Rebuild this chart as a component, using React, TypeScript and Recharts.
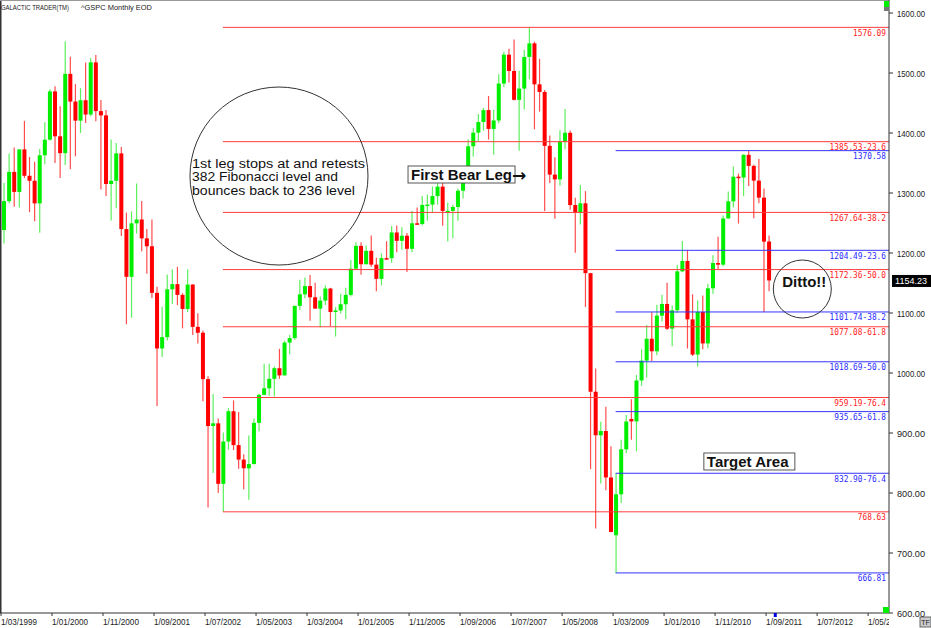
import React from "react";
import {
  ComposedChart,
  Bar,
  XAxis,
  YAxis,
  ReferenceLine,
  ReferenceDot,
} from "recharts";

// month index 0 = March 1999, one candle per month up to September 2011
const START_YEAR = 1999;
const START_MONTH = 3;

const opens = [
  1238.3, 1286.4, 1335.2, 1301.8, 1372.7, 1328.7, 1320.4, 1282.7, 1362.9, 1388.9,
  1469.3, 1394.5, 1366.4, 1498.6, 1452.4, 1420.6, 1454.6, 1430.8, 1517.7, 1436.5,
  1429.4, 1315.0, 1320.3, 1366.0, 1239.9, 1160.3, 1249.5, 1255.8, 1224.4, 1211.2,
  1133.6, 1040.9, 1059.8, 1139.5, 1148.1, 1130.2, 1106.7, 1147.4, 1076.9, 1067.1,
  989.8, 911.6, 916.1, 815.3, 885.8, 936.3, 879.8, 855.7, 841.2, 848.2,
  916.9, 963.6, 974.5, 990.3, 1008.0, 996.0, 1050.7, 1058.2, 1111.9, 1131.1,
  1144.9, 1126.2, 1107.3, 1120.7, 1140.8, 1101.7, 1104.2, 1114.6, 1130.2, 1173.8,
  1211.9, 1181.3, 1203.6, 1180.6, 1156.9, 1191.5, 1191.3, 1234.2, 1220.3, 1228.8,
  1207.0, 1249.5, 1248.3, 1280.1, 1280.7, 1294.9, 1310.6, 1270.1, 1270.2, 1276.7,
  1303.8, 1335.9, 1377.9, 1400.6, 1418.3, 1438.2, 1406.8, 1420.9, 1482.4, 1530.6,
  1503.4, 1455.3, 1474.0, 1526.8, 1549.4, 1481.1, 1468.4, 1378.6, 1330.6, 1322.7,
  1385.6, 1400.4, 1280.0, 1267.4, 1282.8, 1166.4, 968.8, 896.2, 903.3, 825.9,
  729.6, 797.9, 872.8, 923.3, 919.3, 987.5, 1020.6, 1057.1, 1036.2, 1095.6,
  1115.1, 1073.9, 1104.5, 1169.4, 1186.7, 1089.4, 1030.7, 1101.6, 1049.3, 1141.2,
  1183.3, 1180.6, 1257.6, 1286.1, 1327.2, 1325.8, 1363.6, 1345.2, 1320.6, 1292.3,
  1219.1,
];

const highs = [
  1316.6, 1366.0, 1376.0, 1372.9, 1420.3, 1360.0, 1352.0, 1373.2, 1418.0, 1473.1,
  1478.0, 1444.6, 1552.9, 1527.2, 1481.5, 1474.6, 1517.3, 1525.2, 1530.1, 1454.8,
  1438.5, 1389.1, 1383.4, 1376.5, 1267.4, 1269.3, 1315.9, 1286.6, 1239.8, 1255.8,
  1143.8, 1110.6, 1164.0, 1173.0, 1176.9, 1133.0, 1173.0, 1147.8, 1099.4, 1070.7,
  994.5, 965.0, 924.0, 901.0, 941.6, 954.3, 935.1, 864.6, 895.9, 924.2,
  965.4, 1015.3, 1015.4, 1011.0, 1040.3, 1053.8, 1063.4, 1112.0, 1155.4, 1159.0,
  1163.2, 1150.6, 1127.7, 1146.3, 1142.0, 1109.7, 1131.5, 1142.1, 1188.5, 1217.9,
  1217.8, 1212.4, 1229.1, 1191.9, 1199.6, 1219.6, 1245.2, 1245.9, 1243.1, 1233.3,
  1270.6, 1275.8, 1294.9, 1297.6, 1310.9, 1318.2, 1326.7, 1284.0, 1280.4, 1307.1,
  1340.3, 1389.4, 1407.9, 1431.8, 1441.6, 1461.6, 1438.9, 1498.0, 1535.6, 1540.6,
  1555.9, 1503.9, 1538.7, 1576.09, 1552.0, 1523.6, 1471.8, 1396.0, 1359.7, 1404.6,
  1440.2, 1404.1, 1292.2, 1313.2, 1303.0, 1167.0, 1007.5, 918.9, 943.9, 877.9,
  833.0, 888.7, 930.2, 956.2, 996.7, 1039.5, 1080.2, 1101.4, 1113.7, 1130.4,
  1150.5, 1112.4, 1180.2, 1219.8, 1205.1, 1131.2, 1121.0, 1129.2, 1148.7, 1196.1,
  1227.1, 1262.6, 1302.7, 1344.1, 1332.3, 1364.6, 1370.58, 1347.0, 1356.5, 1307.4,
  1229.3,
];

const lows = [
  1216.0, 1282.8, 1277.0, 1276.0, 1325.0, 1268.0, 1253.0, 1233.7, 1348.0, 1387.4,
  1350.1, 1325.1, 1346.6, 1339.4, 1361.1, 1400.0, 1416.5, 1428.0, 1419.4, 1305.8,
  1294.9, 1254.1, 1274.6, 1228.3, 1081.2, 1092.0, 1232.4, 1203.0, 1165.5, 1124.9,
  944.8, 1026.8, 1054.3, 1114.9, 1113.0, 1074.4, 1101.7, 1063.5, 1049.0, 952.9,
  775.7, 833.4, 800.2, 768.63, 872.1, 871.6, 840.3, 806.3, 788.9, 847.9,
  902.8, 963.4, 962.1, 960.8, 990.4, 996.0, 1031.2, 1055.5, 1105.1, 1124.4,
  1087.2, 1107.2, 1076.3, 1113.3, 1078.0, 1060.7, 1099.2, 1090.2, 1127.6, 1173.8,
  1163.8, 1181.0, 1176.9, 1136.2, 1146.2, 1188.3, 1183.6, 1201.1, 1205.4, 1168.2,
  1201.1, 1246.6, 1245.7, 1253.6, 1268.4, 1280.7, 1245.3, 1219.3, 1224.5, 1253.9,
  1290.9, 1327.1, 1361.0, 1385.9, 1404.0, 1389.1, 1364.0, 1416.4, 1476.7, 1484.2,
  1454.3, 1370.6, 1439.3, 1489.6, 1406.1, 1435.6, 1270.1, 1316.8, 1257.0, 1312.2,
  1373.1, 1272.0, 1200.4, 1247.5, 1110.0, 839.8, 741.0, 815.7, 804.5, 734.5,
  666.79, 783.3, 866.1, 888.9, 869.3, 978.5, 992.3, 1020.0, 1029.4, 1085.9,
  1071.6, 1044.5, 1100.0, 1168.0, 1040.8, 1028.3, 1010.9, 1039.7, 1041.2, 1131.9,
  1173.0, 1178.0, 1257.6, 1275.9, 1249.1, 1294.7, 1311.8, 1258.1, 1282.9, 1101.5,
  1136.2,
];

const closes = [
  1286.4, 1335.2, 1301.8, 1372.7, 1328.7, 1320.4, 1282.7, 1362.9, 1388.9, 1469.3,
  1394.5, 1366.4, 1498.6, 1452.4, 1420.6, 1454.6, 1430.8, 1517.7, 1436.5, 1429.4,
  1315.0, 1320.3, 1366.0, 1239.9, 1160.3, 1249.5, 1255.8, 1224.4, 1211.2, 1133.6,
  1040.9, 1059.8, 1139.5, 1148.1, 1130.2, 1106.7, 1147.4, 1076.9, 1067.1, 989.8,
  911.6, 916.1, 815.3, 885.8, 936.3, 879.8, 855.7, 841.2, 848.2, 916.9,
  963.6, 974.5, 990.3, 1008.0, 996.0, 1050.7, 1058.2, 1111.9, 1131.1, 1144.9,
  1126.2, 1107.3, 1120.7, 1140.8, 1101.7, 1104.2, 1114.6, 1130.2, 1173.8, 1211.9,
  1181.3, 1203.6, 1180.6, 1156.9, 1191.5, 1191.3, 1234.2, 1220.3, 1228.8, 1207.0,
  1249.5, 1248.3, 1280.1, 1280.7, 1294.9, 1310.6, 1270.1, 1270.2, 1276.7, 1303.8,
  1335.9, 1377.9, 1400.6, 1418.3, 1438.2, 1406.8, 1420.9, 1482.4, 1530.6, 1503.4,
  1455.3, 1474.0, 1526.8, 1549.4, 1481.1, 1468.4, 1378.6, 1330.6, 1322.7, 1385.6,
  1400.4, 1280.0, 1267.4, 1282.8, 1166.4, 968.8, 896.2, 903.3, 825.9, 735.1,
  797.9, 872.8, 919.1, 919.3, 987.5, 1020.6, 1057.1, 1036.2, 1095.6, 1115.1,
  1073.9, 1104.5, 1169.4, 1186.7, 1089.4, 1030.7, 1101.6, 1049.3, 1141.2, 1183.3,
  1180.6, 1257.6, 1286.1, 1327.2, 1325.8, 1363.6, 1345.2, 1320.6, 1292.3, 1218.9,
  1154.23,
];

// fibonacci levels: 2002 low -> 2007 high (red), 2009 low -> 2011 high (blue)
const redLevels = [1576.09, 1385.53, 1267.64, 1172.36, 1077.08, 959.19, 768.63];
const redTags = ["1576.09", "1385.53-23.6", "1267.64-38.2", "1172.36-50.0", "1077.08-61.8", "959.19-76.4", "768.63"];
const blueLevels = [1370.58, 1204.49, 1101.74, 1018.69, 935.65, 832.9, 666.81];
const blueTags = ["1370.58", "1204.49-23.6", "1101.74-38.2", "1018.69-50.0", "935.65-61.8", "832.90-76.4", "666.81"];
const RED_START = 43.5; // Oct 2002
const BLUE_START = 120.5; // Mar 2009

const yTicks = [600, 700, 800, 900, 1000, 1100, 1200, 1300, 1400, 1500, 1600];
const xTicks = [0, 10, 20, 30, 40, 50, 60, 70, 80, 90, 100, 110, 120, 130, 140, 150, 160, 170];
const LAST_PRICE = 1154.23;

const X_MIN = -0.2;
const X_MAX = 174.1;
const Y_MIN = 600;
const Y_MAX = 1621.67;
const PLOT_RIGHT = 889;

const FONT = "'Liberation Sans', Arial, sans-serif";
const MONO = "'DejaVu Sans Mono', monospace";

const candles = opens.map((o, i) => ({
  t: i + 0.5,
  open: o,
  high: highs[i],
  low: lows[i],
  close: closes[i],
}));

const monthLabel = (m: number) => {
  const k = START_MONTH - 1 + m;
  const mm = (k % 12) + 1;
  const yy = START_YEAR + Math.floor(k / 12);
  return `1/${mm < 10 ? "0" + mm : mm}/${yy}`;
};

const Candle = (props: any) => {
  const { x, y, width, height, payload } = props;
  if (x == null || !payload) return null;
  const top = Math.min(y, y + height);
  const h = Math.abs(height);
  const { open, close, high, low } = payload;
  const k = h / (high - low);
  const up = close >= open;
  const bodyTop = top + (high - Math.max(open, close)) * k;
  const bodyH = Math.max(1.5, Math.abs(open - close) * k);
  const cx = x + width / 2;
  return (
    <g>
      <line x1={cx} x2={cx} y1={top} y2={top + h} stroke={up ? "#5cf05c" : "#ff4d4d"} strokeWidth={1.2} />
      <rect x={x} y={bodyTop} width={width} height={bodyH} fill={up ? "#00ee00" : "#ff0000"} />
    </g>
  );
};

const XTick = (props: any) => {
  const { x, y, payload, index } = props;
  const label = monthLabel(payload.value);
  const id = `xclip${index}`;
  return (
    <g>
      <clipPath id={id}>
        <rect x={0} y={y - 6} width={PLOT_RIGHT} height={20} />
      </clipPath>
      <text
        x={x}
        y={y + 8}
        fontSize={9}
        fill="#222"
        fontFamily={FONT}
        textLength={label.length * 4}
        lengthAdjust="spacingAndGlyphs"
        clipPath={`url(#${id})`}
      >
        {label}
      </text>
    </g>
  );
};

const YTick = (props: any) => {
  const { x, y, payload } = props;
  const label = Number(payload.value).toFixed(2);
  return (
    <text x={x} y={y + 3.5} fontSize={9} fill="#222" fontFamily={FONT} textLength={28} lengthAdjust="spacingAndGlyphs">
      {label}
    </text>
  );
};

const levelTag = (text: string, color: string) => (p: any) => (
  <text
    x={p.cx - 3}
    y={p.cy + 8.5}
    fontSize={8.5}
    fill={color}
    fontFamily={MONO}
    textAnchor="end"
    textLength={text.length * 4.7}
    lengthAdjust="spacingAndGlyphs"
  >
    {text}
  </text>
);

const noteLines = ["1st leg stops at and retests", "382 Fibonacci level and", "bounces back to 236 level"];
const noteWidths = [173, 146, 163];

const BigNote = (p: any) => (
  <g>
    <circle cx={p.cx} cy={p.cy} r={89} fill="none" stroke="#333" strokeWidth={1} />
    {noteLines.map((s, i) => (
      <text
        key={s}
        x={p.cx - 87}
        y={p.cy - 8 + i * 13.3}
        fontFamily={FONT}
        fontSize={12.5}
        fill="#111"
        textLength={noteWidths[i]}
        lengthAdjust="spacingAndGlyphs"
      >
        {s}
      </text>
    ))}
  </g>
);

const BoxNote = (text: string, w: number, arrow: boolean) => (p: any) => (
  <g>
    <rect x={p.cx} y={p.cy} width={w} height={17} fill="#fff" stroke="#555" strokeWidth={1} />
    <text x={p.cx + 3} y={p.cy + 14} fontFamily={FONT} fontSize={15} fontWeight="bold" fill="#111">
      {text}
      {arrow ? (
        <tspan fontFamily="'DejaVu Sans', sans-serif" fontSize={17} dy={1}>
          {"\u2192"}
        </tspan>
      ) : null}
    </text>
  </g>
);

const DittoNote = (p: any) => (
  <g>
    <circle cx={p.cx} cy={p.cy} r={29} fill="none" stroke="#333" strokeWidth={1} />
    <text x={p.cx + 2} y={p.cy - 2} textAnchor="middle" fontFamily={FONT} fontSize={15} fontWeight="bold" fill="#111">
      Ditto!!
    </text>
  </g>
);

const Header = (p: any) => (
  <g fontFamily={FONT} fontSize={7.5} fill="#222">
    <text x={p.cx + 1} y={p.cy + 10} textLength={68} lengthAdjust="spacingAndGlyphs">
      GALACTIC TRADER(TM)
    </text>
    <text x={p.cx + 81} y={p.cy + 10} textLength={71} lengthAdjust="spacingAndGlyphs">
      ^GSPC Monthly EOD
    </text>
  </g>
);

const PriceTag = (p: any) => (
  <g>
    <rect x={p.cx + 3} y={p.cy - 5.5} width={40} height={12} fill="#000" />
    <text x={p.cx + 22} y={p.cy + 4} textAnchor="middle" fontSize={9} fill="#fff" fontFamily={FONT}>
      {LAST_PRICE.toFixed(2)}
    </text>
  </g>
);

const TopMarks = (p: any) => (
  <g>
    <rect x={p.cx - 5} y={p.cy + 1} width={5} height={6} fill="#00ee00" />
    <rect x={p.cx - 5} y={p.cy + 7} width={5} height={4} fill="#777" />
  </g>
);

const BottomMarks = (p: any) => (
  <g>
    <rect x={p.cx - 6} y={p.cy - 6} width={6} height={6} fill="#00ee00" />
    <rect x={p.cx + 31} y={p.cy + 4} width={11} height={10} fill="#ccc" stroke="#666" />
    <text x={p.cx + 36.5} y={p.cy + 12} textAnchor="middle" fontSize={7} fill="#222" fontFamily={FONT}>
      TF
    </text>
  </g>
);

const TimeMark = (p: any) => <rect x={p.cx - 1.5} y={p.cy} width={3} height={4} fill="#0000dd" />;

const App: React.FC = () => {
  return (
    <div style={{ position: "absolute", left: 0, top: 0, width: 931, height: 628, background: "#fff" }}>
      <ComposedChart width={931} height={628} data={candles} margin={{ top: 0, right: 0, bottom: 0, left: 0 }}>
        <XAxis
          dataKey="t"
          type="number"
          domain={[X_MIN, X_MAX]}
          allowDataOverflow
          ticks={xTicks}
          interval={0}
          height={15}
          tickSize={3}
          tickMargin={1}
          stroke="#333"
          tick={<XTick />}
        />
        <YAxis
          orientation="right"
          type="number"
          domain={[Y_MIN, Y_MAX]}
          allowDataOverflow
          ticks={yTicks}
          interval={0}
          width={42}
          tickSize={4}
          tickMargin={4}
          stroke="#333"
          tick={<YTick />}
        />

        <ReferenceLine x={X_MIN} stroke="#333" strokeWidth={3} ifOverflow="visible" />
        <ReferenceLine y={Y_MAX} stroke="#999" strokeWidth={2} ifOverflow="visible" />

        {redLevels.map((v) => (
          <ReferenceLine
            key={`r${v}`}
            segment={[{ x: RED_START, y: v }, { x: X_MAX, y: v }]}
            stroke="#ff3c3c"
            strokeWidth={1}
            ifOverflow="visible"
          />
        ))}
        {blueLevels.map((v) => (
          <ReferenceLine
            key={`b${v}`}
            segment={[{ x: BLUE_START, y: v }, { x: X_MAX, y: v }]}
            stroke="#3434ff"
            strokeWidth={1}
            ifOverflow="visible"
          />
        ))}

        <Bar dataKey={(d: any) => [d.low, d.high]} barSize={4} shape={<Candle />} isAnimationActive={false} />

        {redLevels.map((v, i) => (
          <ReferenceDot key={`rt${v}`} x={X_MAX} y={v} r={0} ifOverflow="visible" shape={levelTag(redTags[i], "#ff2020")} />
        ))}
        {blueLevels.map((v, i) => (
          <ReferenceDot key={`bt${v}`} x={X_MAX} y={v} r={0} ifOverflow="visible" shape={levelTag(blueTags[i], "#2a2aff")} />
        ))}

        <ReferenceDot x={54.5} y={1328.3} r={0} ifOverflow="visible" shape={BigNote} />
        <ReferenceDot x={79.8} y={1345} r={0} ifOverflow="visible" shape={BoxNote("First Bear Leg", 107, true)} />
        <ReferenceDot x={137.8} y={866.7} r={0} ifOverflow="visible" shape={BoxNote("Target Area", 91, false)} />
        <ReferenceDot x={157.1} y={1140} r={0} ifOverflow="visible" shape={DittoNote} />
        <ReferenceDot x={X_MIN} y={Y_MAX} r={0} ifOverflow="visible" shape={Header} />
        <ReferenceDot x={X_MAX} y={LAST_PRICE} r={0} ifOverflow="visible" shape={PriceTag} />
        <ReferenceDot x={X_MAX} y={Y_MAX} r={0} ifOverflow="visible" shape={TopMarks} />
        <ReferenceDot x={X_MAX} y={Y_MIN} r={0} ifOverflow="visible" shape={BottomMarks} />
        <ReferenceDot x={151.8} y={Y_MIN} r={0} ifOverflow="visible" shape={TimeMark} />
      </ComposedChart>
    </div>
  );
};

export default App;
